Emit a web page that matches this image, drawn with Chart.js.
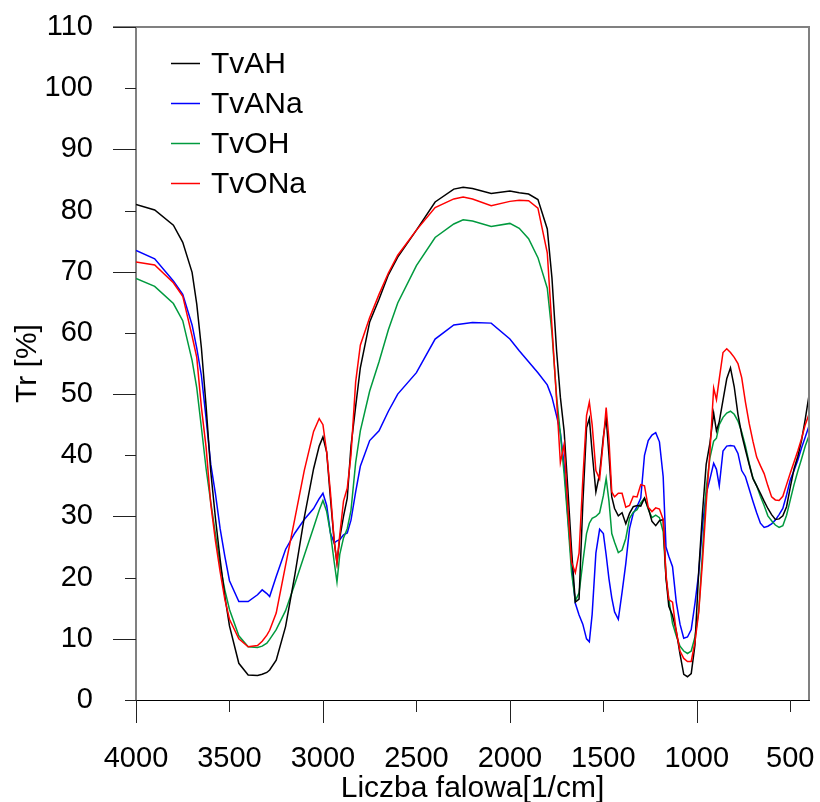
<!DOCTYPE html>
<html lang="pl">
<head>
<meta charset="UTF-8">
<title>Widma FTIR</title>
<script src="https://cdn.jsdelivr.net/npm/chart.js"></script>
<style>
  html, body { margin: 0; padding: 0; background: #fff; }
  #wrap { width: 820px; height: 802px; }
</style>
</head>
<body>
<div id="wrap"><canvas id="ftirChart" width="820" height="802"></canvas></div>
<script>
// wavenumbers [1/cm]
const wavenumbers = [
  4000, 3900, 3800, 3750, 3700, 3675, 3650, 3625, 3600, 3575,
  3550, 3525, 3500, 3450, 3400, 3350, 3325, 3300, 3285, 3250, 3200, 3150,
  3100, 3050, 3020, 3000, 2980, 2960, 2940, 2925, 2910, 2890,
  2870, 2850, 2825, 2800, 2750, 2700, 2650, 2600, 2500, 2400,
  2300, 2250, 2200, 2100, 2000, 1950, 1900, 1850, 1800, 1775,
  1750, 1730, 1710, 1690, 1670, 1650, 1630, 1610, 1590, 1575,
  1560, 1540, 1520, 1500, 1485, 1470, 1455, 1440, 1420, 1400,
  1380, 1360, 1340, 1320, 1300, 1280, 1260, 1240, 1220, 1200,
  1180, 1165, 1150, 1130, 1110, 1090, 1070, 1050, 1030, 1010,
  990, 970, 950, 930, 910, 895, 880, 860, 840, 820,
  800, 780, 760, 740, 720, 700, 680, 660, 640, 620,
  600, 580, 560, 540, 520, 500, 480, 460, 440, 420,
  400
];

const tvah = [
  81.0, 80.1, 77.6, 74.8, 69.9, 64.7, 57.5, 48.0, 37.3, 29.7,
  23.0, 17.0, 12.1, 6.0, 4.1, 4.0, 4.2, 4.5, 4.9, 6.5, 12.0, 20.5,
  29.8, 37.8, 41.5, 43.0, 40.5, 33.0, 26.0, 22.4, 26.5, 30.0,
  33.0, 41.5, 48.0, 54.3, 61.8, 65.5, 69.5, 72.4, 76.8, 81.4,
  83.5, 83.8, 83.6, 82.8, 83.2, 82.9, 82.7, 81.8, 77.0, 69.0,
  57.0, 49.5, 44.0, 34.5, 24.5, 16.0, 16.5, 32.0, 44.5, 46.0,
  40.5, 34.0, 37.0, 43.0, 46.2, 40.0, 33.2, 31.3, 30.1, 30.6,
  28.8, 30.5, 31.6, 31.8, 31.7, 33.0, 31.4, 29.2, 28.5, 29.3,
  29.5, 20.0, 15.3, 13.8, 11.3, 7.5, 4.2, 3.8, 4.3, 9.0,
  21.0, 30.5, 38.5, 42.0, 46.9, 44.0, 45.5, 49.0, 52.5, 54.3,
  51.2, 46.7, 43.4, 40.9, 38.5, 36.2, 35.0, 33.8, 32.5, 31.3,
  30.3, 29.5, 29.6, 30.1, 31.6, 34.8, 37.8, 39.8, 42.4, 45.9,
  49.8
];

const tvana = [
  73.5, 72.1, 68.5, 66.3, 61.3, 57.5, 53.0, 46.0, 38.5, 33.7,
  28.0, 23.5, 19.5, 16.1, 16.1, 17.2, 18.0, 17.4, 16.9, 20.2, 24.6, 27.3,
  29.5, 31.3, 32.9, 33.8, 31.8, 27.3, 25.7, 26.0, 26.2, 27.0,
  27.3, 29.4, 34.0, 38.2, 42.4, 44.0, 47.2, 50.0, 53.5, 59.0,
  61.3, 61.5, 61.7, 61.6, 59.0, 57.1, 55.3, 53.5, 51.5, 49.5,
  46.4, 43.7, 38.5, 30.0, 22.2, 15.8, 13.9, 12.4, 10.0, 9.5,
  14.0, 24.0, 27.9, 27.2, 23.7, 19.8, 16.7, 14.4, 13.2, 17.6,
  22.3, 28.0, 30.5, 31.6, 33.0, 40.0, 42.4, 43.3, 43.7, 42.2,
  36.5, 25.0, 23.5, 21.8, 16.0, 12.4, 10.1, 10.3, 11.5, 15.8,
  20.7, 28.5, 33.7, 36.1, 38.7, 37.7, 35.0, 40.7, 41.5, 41.6,
  41.5, 40.3, 37.5, 36.5, 34.5, 32.5, 30.6, 28.9, 28.2, 28.4,
  28.8, 29.4, 30.3, 31.3, 33.5, 36.0, 37.5, 39.2, 41.2, 43.0,
  44.8
];

const tvoh = [
  68.9, 67.6, 64.8, 62.0, 55.5, 51.0, 44.5, 37.8, 32.3, 27.1,
  22.0, 18.0, 14.8, 10.5, 8.7, 8.6, 8.8, 9.3, 9.9, 11.5, 14.6, 19.0,
  23.6, 28.2, 31.0, 32.6, 30.8, 27.3, 22.6, 19.3, 23.8, 26.5,
  28.0, 31.0, 38.8, 44.0, 50.5, 55.3, 60.5, 64.9, 71.0, 75.6,
  77.8, 78.5, 78.3, 77.4, 77.9, 77.1, 75.4, 72.3, 67.3, 60.0,
  49.5, 43.5, 37.0, 29.3, 20.8, 16.2, 17.5, 22.5, 27.2, 28.9,
  29.7, 30.0, 30.6, 33.4, 36.2, 32.5, 27.2, 25.8, 24.1, 24.5,
  26.4, 29.7, 30.7, 31.1, 32.2, 33.0, 31.2, 29.8, 30.2, 29.8,
  27.5, 20.0, 16.5, 12.5, 10.5, 8.8, 8.0, 7.6, 8.0, 10.3,
  14.5, 24.0, 34.5, 39.6, 42.3, 42.8, 45.0, 46.2, 46.9, 47.2,
  46.7, 45.6, 43.8, 41.5, 38.7, 36.3, 35.0, 33.3, 31.8, 30.1,
  29.3, 28.6, 28.2, 28.5, 30.2, 32.7, 35.2, 37.4, 39.4, 41.5,
  43.2
];

const tvona = [
  71.6, 71.1, 68.2, 66.0, 59.5, 56.0, 47.8, 41.3, 32.0, 26.0,
  21.0, 16.5, 13.2, 10.0, 8.7, 8.9, 9.6, 10.6, 11.4, 14.2, 22.0, 29.7,
  37.5, 43.9, 46.0, 45.0, 40.5, 34.0, 26.0, 22.4, 27.0, 32.5,
  34.6, 40.0, 52.0, 58.0, 62.5, 66.3, 69.8, 72.7, 76.8, 80.5,
  81.9, 82.2, 81.9, 80.8, 81.5, 81.7, 81.6, 80.4, 73.1, 61.0,
  49.0, 38.8, 41.8, 31.5, 22.5, 20.8, 24.0, 36.0, 46.5, 48.7,
  45.0, 37.5, 36.1, 42.5, 47.8, 42.5, 34.0, 33.2, 33.8, 33.8,
  31.5, 31.8, 33.3, 33.2, 35.2, 35.0, 31.5, 30.8, 31.4, 31.2,
  29.5, 20.5, 16.4, 16.0, 11.2, 8.0, 6.8, 6.3, 6.3, 9.5,
  14.3, 22.5, 32.0, 40.5, 51.0, 49.1, 52.5, 56.8, 57.4, 56.8,
  56.0, 55.0, 52.7, 48.7, 45.2, 42.3, 39.7, 38.3, 37.0, 35.0,
  33.2, 32.7, 32.6, 33.3, 35.2, 37.1, 38.9, 40.7, 42.7, 45.0,
  46.7
];

const seriesLabels = ['TvAH', 'TvANa', 'TvOH', 'TvONa'];
const seriesColors = ['#000000', '#0000ff', '#009a3e', '#ff0000'];
const xTickValues = [4000, 3500, 3000, 2500, 2000, 1500, 1000, 500];
const yTickValues = [0, 10, 20, 30, 40, 50, 60, 70, 80, 90, 100, 110];

const FONT = '"Liberation Sans", Arial, sans-serif';
Chart.defaults.font.family = FONT;
Chart.defaults.color = '#000';

function toPoints(values) {
  return wavenumbers.map((w, i) => ({ x: w, y: values[i] }));
}

// long ticks on every second value, short ones between, plus top/right frame
const frameAndTicks = {
  id: 'frameAndTicks',
  afterDraw(chart) {
    const { ctx, chartArea: a, scales: { x, y } } = chart;
    ctx.save();
    ctx.strokeStyle = '#808080';
    ctx.lineWidth = 2;
    ctx.beginPath();
    ctx.moveTo(a.left - 23, a.top);
    ctx.lineTo(a.right, a.top);
    ctx.lineTo(a.right, a.bottom);
    ctx.stroke();

    ctx.strokeStyle = '#222';
    ctx.lineWidth = 1;
    x.ticks.forEach(t => {
      const px = Math.round(x.getPixelForValue(t.value)) + 0.5;
      const len = t.value % 1000 === 0 ? 23 : 12;
      ctx.beginPath();
      ctx.moveTo(px, a.bottom);
      ctx.lineTo(px, a.bottom + len);
      ctx.stroke();
    });
    y.ticks.forEach(t => {
      const py = Math.round(y.getPixelForValue(t.value)) + 0.5;
      const len = (t.value / 10) % 2 === 1 ? 23 : 11;
      ctx.beginPath();
      ctx.moveTo(a.left - len, py);
      ctx.lineTo(a.left, py);
      ctx.stroke();
    });
    ctx.restore();
  }
};

// legend inside the plot, top left
const insideLegend = {
  id: 'insideLegend',
  afterDraw(chart) {
    const { ctx, chartArea: a } = chart;
    ctx.save();
    ctx.font = '30px ' + FONT;
    ctx.textBaseline = 'middle';
    ctx.textAlign = 'left';
    chart.data.datasets.forEach((ds, i) => {
      const yy = a.top + 36.5 + i * 40;
      ctx.strokeStyle = ds.borderColor;
      ctx.lineWidth = 1.5;
      ctx.beginPath();
      ctx.moveTo(a.left + 35, yy);
      ctx.lineTo(a.left + 64, yy);
      ctx.stroke();
      ctx.fillStyle = '#000';
      ctx.fillText(ds.label, a.left + 75, yy + 1);
    });
    ctx.restore();
  }
};

const seriesValues = [tvah, tvana, tvoh, tvona];
const drawOrder = [1, 3, 2, 0];

new Chart(document.getElementById('ftirChart'), {
  type: 'line',
  data: {
    datasets: seriesLabels.map((label, i) => ({
      label: label,
      data: toPoints(seriesValues[i]),
      borderColor: seriesColors[i],
      backgroundColor: seriesColors[i],
      borderWidth: 1.5,
      pointRadius: 0,
      tension: 0,
      fill: false,
      order: drawOrder[i]
    }))
  },
  options: {
    responsive: false,
    animation: false,
    events: [],
    layout: { padding: { top: 27, right: 11, left: 0, bottom: 0 } },
    plugins: {
      legend: { display: false },
      tooltip: { enabled: false }
    },
    scales: {
      x: {
        type: 'linear',
        reverse: true,
        min: 400,
        max: 4000,
        afterBuildTicks: s => { s.ticks = xTickValues.map(v => ({ value: v })); },
        afterFit: s => {
          s.height = 102;
          s.paddingLeft = 0;
          s.paddingRight = 0;
        },
        grid: { display: false },
        border: { display: true, color: '#000', width: 1 },
        ticks: {
          font: { size: 29 },
          padding: 34,
          maxRotation: 0,
          autoSkip: false,
          callback: v => String(v)
        },
        title: {
          display: true,
          text: 'Liczba falowa[1/cm]',
          font: { size: 30, lineHeight: 0.9 },
          padding: 0
        }
      },
      y: {
        min: 0,
        max: 110,
        afterBuildTicks: s => { s.ticks = yTickValues.map(v => ({ value: v })); },
        afterFit: s => {
          s.width = 136;
          s.paddingTop = 0;
          s.paddingBottom = 0;
        },
        grid: { display: false },
        border: { display: true, color: '#808080', width: 2 },
        ticks: {
          font: { size: 29 },
          padding: 35,
          callback: v => String(v)
        },
        title: {
          display: true,
          text: 'Tr [%]',
          font: { size: 30 },
          padding: { top: 10, bottom: 0 }
        }
      }
    }
  },
  plugins: [frameAndTicks, insideLegend]
});
</script>
</body>
</html>
